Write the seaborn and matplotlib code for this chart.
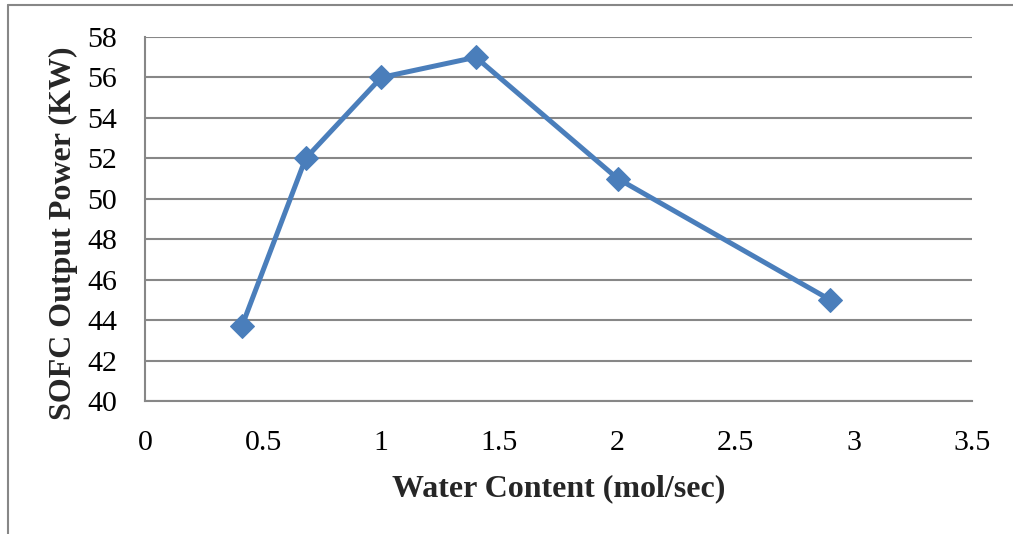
import matplotlib
matplotlib.use("Agg")
import matplotlib.pyplot as plt
from matplotlib.lines import Line2D
import seaborn as sns
import pandas as pd

# Water content (mol/sec) and resulting SOFC output power (kW)
water_content = [0.41, 0.68, 1.0, 1.40, 2.0, 2.90]
output_power = [43.7, 52.0, 56.0, 57.0, 51.0, 45.0]
x_ticks = [0, 0.5, 1, 1.5, 2, 2.5, 3, 3.5]
x_tick_labels = ["0", "0.5", "1", "1.5", "2", "2.5", "3", "3.5"]
y_ticks = [40, 42, 44, 46, 48, 50, 52, 54, 56, 58]

sns.set_style("white")
plt.rcParams["font.family"] = ["Liberation Serif", "DejaVu Serif"]

df = pd.DataFrame({"water": water_content, "power": output_power})

fig = plt.figure(figsize=(10.13, 5.34), dpi=100)
ax = fig.add_axes([145 / 1013, 1 - 401 / 534, (972 - 145) / 1013, (401 - 37) / 534])

grid_color = "#878787"
line_color = "#4a7ebb"

sns.lineplot(data=df, x="water", y="power", ax=ax, color=line_color,
             linewidth=3.6, marker="D", markersize=12.5,
             markeredgecolor=line_color, markerfacecolor=line_color, zorder=3)

ax.set_xlim(0, 3.5)
ax.set_ylim(40, 58)
ax.set_xticks(x_ticks)
ax.set_xticklabels(x_tick_labels)
ax.set_yticks(y_ticks)
ax.yaxis.grid(True, color=grid_color, linewidth=1.5)
ax.xaxis.grid(False)
ax.set_axisbelow(True)
ax.tick_params(axis="both", length=0, labelsize=21.5, colors="black")
ax.tick_params(axis="y", pad=20)
ax.tick_params(axis="x", pad=21)

for side in ("top", "right"):
    ax.spines[side].set_visible(False)
for side in ("left", "bottom"):
    ax.spines[side].set_color(grid_color)
    ax.spines[side].set_linewidth(1.5)

ax.set_xlabel("Water Content (mol/sec)", fontsize=23, fontweight="bold", labelpad=13)
ax.set_ylabel("SOFC Output Power (KW)", fontsize=23, fontweight="bold")
ax.yaxis.set_label_coords(-0.081, 0.462)

# Chart-area frame along the top and left edges
fig.add_artist(Line2D([8 / 1013, 1.0], [1 - 5 / 534, 1 - 5 / 534],
                      transform=fig.transFigure, color=grid_color, linewidth=1.5))
fig.add_artist(Line2D([8 / 1013, 8 / 1013], [0.0, 1 - 5 / 534],
                      transform=fig.transFigure, color=grid_color, linewidth=1.5))

fig.savefig("out.png", dpi=100, facecolor="white")
